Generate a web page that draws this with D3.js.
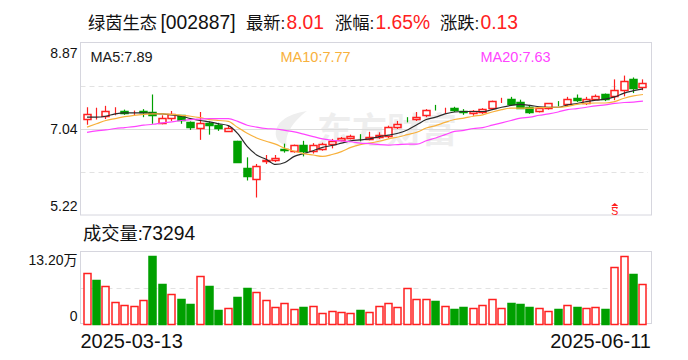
<!DOCTYPE html>
<html>
<head>
<meta charset="utf-8">
<script src="https://cdn.jsdelivr.net/npm/d3@7/dist/d3.min.js"></script>
<style>
    html, body {margin: 0; padding: 0; background: #fff;}
    svg {display: block;}
    text {font-family: "Liberation Sans", "Noto Sans CJK SC", sans-serif;}
</style>
</head>
<body>
<div id="chartContent"></div>
<script>
//Values
const opens = [7.25,7.29,7.31,7.41,7.42,7.39,7.41,7.40,7.17,7.26,7.33,7.19,7.05,7.16,7.12,7.01,6.79,6.21,5.98,6.36,
    6.37,6.62,6.58,6.70,6.58,6.61,6.72,6.81,6.85,6.86,6.83,6.88,6.90,7.07,7.19,7.25,7.33,7.45,7.44,7.48,
    7.41,7.37,7.39,7.48,7.68,7.68,7.61,7.50,7.41,7.48,7.58,7.56,7.70,7.58,7.68,7.77,7.75,7.86,8.10,7.93];
const closes = [7.36,7.30,7.42,7.41,7.37,7.39,7.38,7.34,7.27,7.35,7.22,7.09,7.16,7.12,7.05,7.07,6.35,6.05,6.25,6.38,
    6.42,6.60,6.70,6.58,6.70,6.72,6.78,6.85,6.89,6.85,6.88,6.92,7.08,7.14,7.18,7.30,7.44,7.44,7.45,7.43,
    7.39,7.42,7.46,7.63,7.69,7.57,7.49,7.39,7.48,7.59,7.57,7.67,7.65,7.67,7.74,7.66,7.87,8.06,7.90,8.01];
const highs = [7.50,7.49,7.53,7.50,7.45,7.43,7.46,7.77,7.33,7.42,7.33,7.20,7.40,7.20,7.17,7.11,6.79,6.44,6.30,6.49,
    6.49,6.73,6.71,6.79,6.74,6.75,6.83,6.87,6.92,6.93,6.98,6.97,7.11,7.21,7.29,7.40,7.46,7.55,7.49,7.51,
    7.46,7.44,7.48,7.64,7.70,7.72,7.66,7.55,7.50,7.59,7.63,7.72,7.77,7.72,7.77,7.79,8.09,8.17,8.13,8.09];
const lows = [7.13,7.24,7.25,7.33,7.34,7.33,7.29,7.15,7.14,7.21,7.15,7.02,6.81,6.92,7.00,6.98,6.35,5.95,5.59,6.30,
    6.34,6.54,6.54,6.46,6.52,6.58,6.63,6.78,6.82,6.78,6.80,6.83,6.85,7.04,7.18,7.21,7.29,7.43,7.36,7.40,
    7.34,7.32,7.36,7.47,7.59,7.54,7.47,7.36,7.39,7.45,7.52,7.52,7.61,7.55,7.65,7.63,7.65,7.73,7.80,7.86];

const ma5 = [7.29,7.29,7.31,7.36,7.38,7.38,7.38,7.37,7.36,7.34,7.31,7.26,7.22,7.19,7.15,7.11,6.94,6.67,6.49,6.40,
    6.29,6.33,6.46,6.52,6.58,6.65,6.69,6.74,6.79,6.81,6.83,6.88,6.91,6.95,7.02,7.13,7.24,7.29,7.36,7.40,
    7.41,7.41,7.41,7.45,7.50,7.54,7.56,7.54,7.51,7.50,7.50,7.55,7.58,7.62,7.65,7.67,7.72,7.80,7.85,7.89];
const ma10 = [7.08,7.15,7.22,7.26,7.30,7.33,7.35,7.36,7.36,7.35,7.33,7.31,7.28,7.24,7.22,7.20,7.07,6.95,6.85,6.78,
    6.72,6.63,6.57,6.52,6.49,6.46,6.50,6.56,6.65,6.71,6.74,6.78,6.83,6.87,6.92,6.97,7.06,7.11,7.18,7.24,
    7.27,7.31,7.34,7.40,7.45,7.48,7.48,7.48,7.49,7.50,7.50,7.52,7.56,7.58,7.59,7.59,7.62,7.69,7.74,7.77];
const ma20 = [6.97,7.00,7.02,7.05,7.07,7.09,7.12,7.14,7.17,7.19,7.22,7.24,7.25,7.26,7.26,7.26,7.20,7.12,7.08,7.05,
    7.04,7.01,6.98,6.93,6.88,6.83,6.80,6.79,6.77,6.74,6.73,6.71,6.70,6.71,6.72,6.72,6.79,6.85,6.92,6.99,
    7.01,7.05,7.07,7.12,7.17,7.22,7.27,7.29,7.33,7.36,7.40,7.45,7.47,7.50,7.53,7.55,7.58,7.60,7.61,7.63];

//Volume In 10k Shares
const volumes = [9.17,7.94,6.95,4.00,3.32,3.26,4.37,12.37,7.20,5.48,4.43,3.51,8.80,6.83,2.40,2.89,4.80,6.46,5.85,4.37,
    3.08,3.82,2.71,2.95,3.26,1.97,2.34,2.15,1.97,2.40,2.15,3.26,3.82,3.08,6.58,4.55,4.55,4.06,3.26,2.58,
    2.95,2.89,3.45,4.55,2.89,3.69,3.51,2.95,2.89,2.34,2.58,3.45,2.95,2.89,3.08,2.58,10.28,12.31,9.05,7.33];
const volumeDirs = 'rgrrrrrggrggrggrggrrrrrgrrrrrgrrrrrrrgrggrrrrgggrrgrgrrgrrgr'.split('');

const priceTicks = [8.87, 7.04, 5.22];
const priceGrid = [7.95, 6.13];
const priceMidLine = 7.04;
const volumeTicks = [13.2, 0];
const volumeGrid = [6.6];
const dateLabels = ['2025-03-13', '2025-06-11'];
const signalIndex = 56;

const upColor = '#ff2020';
const downColor = '#00a000';
const borderColor = '#d6d6de';
const gridColor = '#e2e2e2';
const cjkSize = 17.3;
const asciiSize = 19.3;

function initialize() {
    const svg = d3.select('#chartContent').append('svg').attr('width', 688).attr('height', 360);

    const plotLeft = 80.5, plotRight = 651.5;
    const days = d3.range(closes.length);
    const x = d3.scaleBand().domain(days).range([82.3, 647.7]);
    const xCenter = i => x(i) + x.bandwidth() / 2;
    const xCrisp = i => Math.floor(xCenter(i)) + 0.5;
    const yPrice = d3.scaleLinear().domain([5.22, 8.87]).range([215, 42.5]);
    const yVolume = d3.scaleLinear().domain([0, 13.2]).range([323.5, 251.5]);

    //Header Text, Chinese Runs Come Out A Bit Narrower Than The Digits
    const headerParts = [
        {x: 88, text: '绿茵生态', fill: '#111', size: cjkSize}
        , {x: 160.5, text: '[002887]', fill: '#111', size: asciiSize}
        , {x: 246, text: '最新:', fill: '#111', size: cjkSize}
        , {x: 286.5, text: '8.01', fill: upColor, size: asciiSize}
        , {x: 335, text: '涨幅:', fill: '#111', size: cjkSize}
        , {x: 375.5, text: '1.65%', fill: upColor, size: asciiSize}
        , {x: 440, text: '涨跌:', fill: '#111', size: cjkSize}
        , {x: 480.5, text: '0.13', fill: upColor, size: asciiSize}
        , {x: 83, y: 240, text: '成交量:', fill: '#111', size: cjkSize + 1}
        , {x: 141.5, y: 240, text: '73294', fill: '#111', size: asciiSize}
    ];
    svg.append('g').selectAll('text').data(headerParts).enter().append('text')
        .attr('x', d => d.x).attr('y', d => d.y || 29).attr('fill', d => d.fill).attr('font-size', d => d.size).text(d => d.text);

    //Watermark Under The Candles
    const watermark = svg.append('g').attr('fill', '#eeeeee');
    watermark.append('path').attr('d', 'M307 111 C286 114 274 124 276 136 C277 141 281 144 287 146 C284 136 292 122 307 111 Z');
    watermark.append('text').attr('x', 317).attr('y', 143).attr('font-size', 35).attr('font-weight', 'bold').text('东方财富');

    //Main Panel
    const drawHLine = (val, yScale, color, dash) => {
        const yPos = Math.round(yScale(val)) + 0.5;
        svg.append('line').attr('x1', plotLeft).attr('x2', 648).attr('y1', yPos).attr('y2', yPos)
            .attr('stroke', color).attr('stroke-dasharray', dash);
    };
    priceGrid.forEach(d => drawHLine(d, yPrice, gridColor, '5,4'));
    drawHLine(priceMidLine, yPrice, '#dcdcdc', null);
    volumeGrid.forEach(d => drawHLine(d, yVolume, gridColor, '5,4'));

    svg.append('rect').attr('x', plotLeft).attr('y', 42.5).attr('width', plotRight - plotLeft).attr('height', 172.5)
        .attr('fill', 'none').attr('stroke', borderColor);
    svg.append('rect').attr('x', plotLeft).attr('y', 251.5).attr('width', plotRight - plotLeft).attr('height', 72)
        .attr('fill', 'none').attr('stroke', borderColor);

    //Candles
    const candleColor = i => closes[i] >= opens[i] ? upColor : downColor;
    const candles = svg.append('g').selectAll('g').data(days).enter().append('g');
    candles.append('line')
        .attr('x1', xCrisp).attr('x2', xCrisp)
        .attr('y1', i => yPrice(highs[i])).attr('y2', i => yPrice(lows[i]))
        .attr('stroke', candleColor)
        .attr('stroke-width', 1.2);
    candles.append('rect')
        .attr('x', i => xCrisp(i) - 3.5)
        .attr('width', 7)
        .attr('y', i => Math.round(yPrice(Math.max(opens[i], closes[i]))) + 0.5)
        .attr('height', i => Math.max(0, Math.round(Math.abs(yPrice(opens[i]) - yPrice(closes[i])))))
        .attr('fill', i => closes[i] >= opens[i] ? '#fff' : downColor)
        .attr('stroke', candleColor)
        .attr('stroke-width', 1.5);

    //Moving Averages
    const maLine = d3.line().x((d, i) => xCenter(i)).y(d => yPrice(d)).curve(d3.curveMonotoneX);
    [[ma5, '#2b2b2b'], [ma10, '#f8b13c'], [ma20, '#ff44ff']].forEach(([values, color]) => {
        svg.append('path').attr('d', maLine(values)).attr('fill', 'none').attr('stroke', color).attr('stroke-width', 1.2);
    });

    const maLabels = svg.append('g').attr('font-size', 14.5);
    maLabels.append('text').attr('x', 90.5).attr('y', 62).attr('fill', '#1a1a1a').text('MA5:7.89');
    maLabels.append('text').attr('x', 280.5).attr('y', 62).attr('fill', '#f8b13c').text('MA10:7.77');
    maLabels.append('text').attr('x', 480.5).attr('y', 62).attr('fill', '#ff44ff').text('MA20:7.63');

    //Signal Marker
    const signal = svg.append('g').attr('fill', upColor);
    const signalX = xCenter(signalIndex);
    signal.append('path').attr('d', `M${signalX} 203 l3.5 3 h-7 Z`);
    signal.append('line').attr('x1', signalX - 3).attr('x2', signalX + 3).attr('y1', 207.5).attr('y2', 207.5).attr('stroke', upColor);
    signal.append('text').attr('x', signalX).attr('y', 215).attr('font-size', 10.5).attr('text-anchor', 'middle').text('S');

    //Volume Bars
    const volumeColor = i => volumeDirs[i] === 'r' ? upColor : downColor;
    svg.append('g').selectAll('rect').data(days).enter().append('rect')
        .attr('x', i => xCrisp(i) - 3.5)
        .attr('width', 7)
        .attr('y', i => Math.round(yVolume(volumes[i])) + 0.5)
        .attr('height', i => Math.round(yVolume(0)) - Math.round(yVolume(volumes[i])))
        .attr('fill', i => volumeDirs[i] === 'r' ? '#fff' : downColor)
        .attr('stroke', volumeColor)
        .attr('stroke-width', 1.5);

    //Axes
    const priceAxis = svg.append('g').attr('transform', 'translate(77.5,0)')
        .call(d3.axisLeft(yPrice).tickValues(priceTicks).tickSize(0).tickPadding(0).tickFormat(d3.format('.2f')));
    priceAxis.select('.domain').remove();
    priceAxis.selectAll('text')
        .attr('font-size', 14).attr('fill', '#111').style('font-family', '"Liberation Sans"')
        .attr('dy', d => d === priceTicks[0] ? '15' : d === priceTicks[2] ? '-5' : '5');

    const volumeAxis = svg.append('g').attr('transform', 'translate(77.5,0)')
        .call(d3.axisLeft(yVolume).tickValues(volumeTicks).tickSize(0).tickPadding(0)
            .tickFormat(d => d === 0 ? '0' : `${d.toFixed(2)}万`));
    volumeAxis.select('.domain').remove();
    volumeAxis.selectAll('text')
        .attr('font-size', 14).attr('fill', '#111')
        .attr('dy', d => d === 0 ? '-3' : '13');

    const dateAxis = svg.append('g').attr('transform', 'translate(0,348)')
        .call(d3.axisBottom(x).tickValues([days[0], days[days.length - 1]]).tickSize(0).tickPadding(0)
            .tickFormat((d, i) => dateLabels[i]));
    dateAxis.select('.domain').remove();
    dateAxis.selectAll('.tick').attr('transform', null);
    dateAxis.selectAll('text')
        .attr('font-size', 20).attr('fill', '#111').attr('dy', 0).attr('y', 0)
        .attr('x', (d, i) => i === 0 ? 80.5 : 651)
        .attr('text-anchor', (d, i) => i === 0 ? 'start' : 'end');
}

document.addEventListener('DOMContentLoaded', initialize);
</script>
</body>
</html>
